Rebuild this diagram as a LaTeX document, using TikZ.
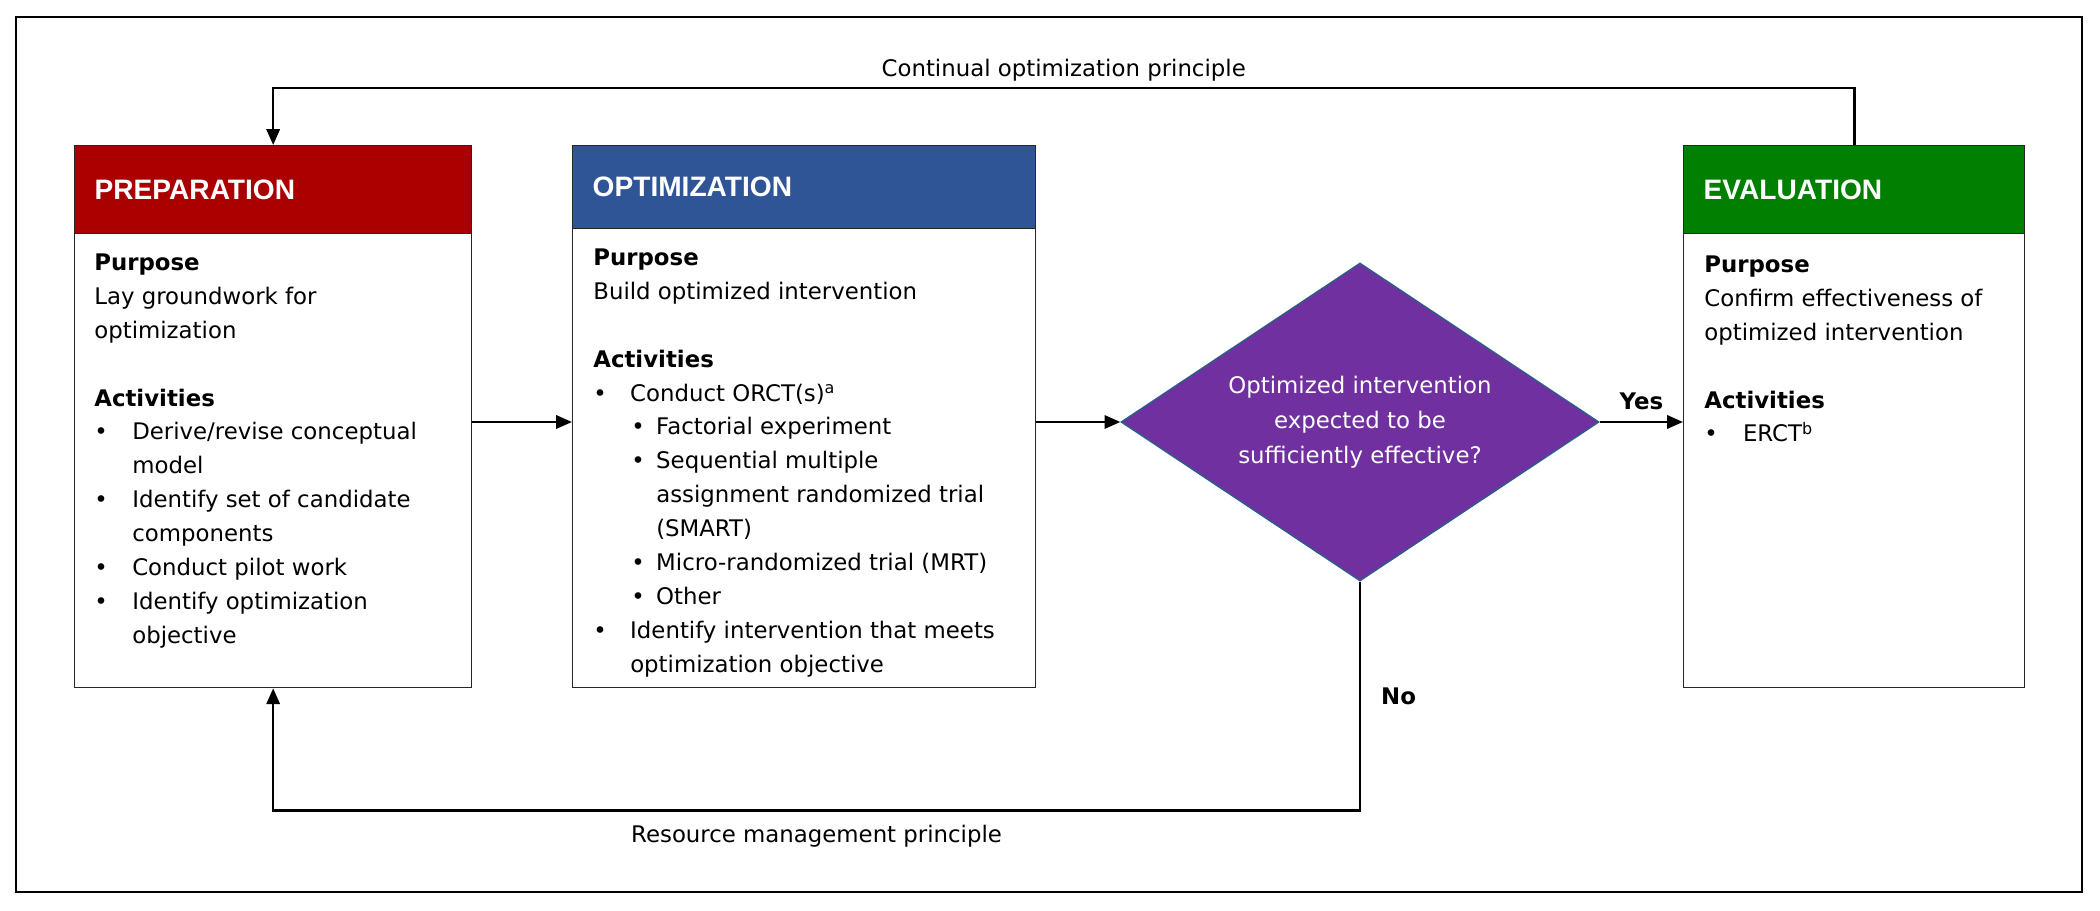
\documentclass[tikz,border=0pt]{standalone}
\usepackage{fontspec}
\setmainfont{DejaVu Sans}
\newfontfamily\headfont{Liberation Sans}
\usetikzlibrary{arrows.meta, positioning, shapes.geometric}
\definecolor{prepred}{HTML}{AA0000}
\definecolor{optblue}{HTML}{2F5597}
\definecolor{evalgreen}{HTML}{007F00}
\definecolor{decpurple}{HTML}{7030A0}
\definecolor{decedge}{HTML}{2E5C8A}
\newcommand{\bitem}[2][21.6pt]{\makebox[#1][l]{\textbullet}#2}
\newcommand{\bcont}[2][21.6pt]{\hspace*{#1}#2}
\newcommand{\sitem}[1]{\hspace*{21.6pt}\makebox[14.2pt][l]{\textbullet}#1}
\newcommand{\scont}[1]{\hspace*{35.8pt}#1}
\tikzset{
  phase/.style = {draw=black!85, line width=0.8pt, minimum height=10.84cm,
    inner sep=0pt},
  phasehead/.style = {draw=black!85, line width=0.8pt, text=white,
    inner xsep=0.4cm, inner ysep=0pt, align=left,
    font=\headfont\bfseries\fontsize{16}{19}\selectfont},
  phasetext/.style = {inner sep=0pt, align=left,
    font=\fontsize{13}{19.3}\selectfont},
  decision/.style = {diamond, aspect=1.5, draw=decedge, line width=0.8pt,
    fill=decpurple, text=white, inner sep=0pt, minimum width=9.56cm,
    minimum height=6.36cm, align=center, font=\fontsize{13}{20}\selectfont},
  conn/.style = {line width=1.5pt, >={Triangle[length=9pt,width=7.5pt]}},
  lbl/.style = {font=\fontsize{13}{16}\selectfont},
  yn/.style = {font=\bfseries\fontsize{13}{16}\selectfont}
}
\begin{document}
\begin{tikzpicture}[x=0.02cm, y=-0.02cm]
\useasboundingbox (0,0) rectangle (2100,911);
\draw[line width=1.6pt] (16,17) rectangle (2082,892);

% the three phases
\node[phase, minimum width=7.94cm, anchor=north west] (prep) at (74,145) {};
\node[phasehead, fill=prepred, text width=7.14cm, minimum height=1.76cm,
  anchor=north west] (prephead) at (prep.north west) {PREPARATION};
\node[phasetext, anchor=north west] (preptext)
  at ([xshift=0.4cm, yshift=-0.38cm]prephead.south west) {%
  \textbf{Purpose}\\
  Lay groundwork for\\
  optimization\\[19.3pt]
  \textbf{Activities}\\
  \bitem{Derive/revise conceptual}\\
  \bcont{model}\\
  \bitem{Identify set of candidate}\\
  \bcont{components}\\
  \bitem{Conduct pilot work}\\
  \bitem{Identify optimization}\\
  \bcont{objective}};

\node[phase, minimum width=9.26cm, anchor=north west] (opt) at (572,145) {};
\node[phasehead, fill=optblue, text width=8.46cm, minimum height=1.66cm,
  anchor=north west] (opthead) at (opt.north west) {OPTIMIZATION};
\node[phasetext, anchor=north west] (opttext)
  at ([xshift=0.42cm, yshift=-0.38cm]opthead.south west) {%
  \textbf{Purpose}\\
  Build optimized intervention\\[19.3pt]
  \textbf{Activities}\\
  \bitem[21pt]{Conduct ORCT(s)\textsuperscript{a}}\\
  \sitem{Factorial experiment}\\
  \sitem{Sequential multiple}\\
  \scont{assignment randomized trial}\\
  \scont{(SMART)}\\
  \sitem{Micro-randomized trial (MRT)}\\
  \sitem{Other}\\
  \bitem[21pt]{Identify intervention that meets}\\
  \bcont[21pt]{optimization objective}};

\node[phase, minimum width=6.82cm, anchor=north west] (eval) at (1683,145) {};
\node[phasehead, fill=evalgreen, text width=6.02cm, minimum height=1.76cm,
  anchor=north west] (evalhead) at (eval.north west) {EVALUATION};
\node[phasetext, anchor=north west] (evaltext)
  at ([xshift=0.42cm, yshift=-0.42cm]evalhead.south west) {%
  \textbf{Purpose}\\
  Confirm effectiveness of\\
  optimized intervention\\[19.3pt]
  \textbf{Activities}\\
  \bitem[22pt]{ERCT\textsuperscript{b}}};

% decision
\node[decision] (dec) at (1360,422)
  {Optimized intervention\\expected to be\\sufficiently effective?};

% connectors
\draw[conn,->] (prep.east |- dec) -- (opt.west |- dec);
\draw[conn,->] (opt.east |- dec) -- (dec.west);
\draw[conn,->] (dec.east) -- node[yn, above=3pt] (yes) {Yes}
  (eval.west |- dec.east);
\draw[conn,->] (eval.north) -- ++(0,-57) coordinate (tr)
  -- node[lbl, above] (contlbl) {Continual optimization principle} (tr -| prep.north)
  -- (prep.north);
\draw[conn,->] (dec.south) -- node[yn, right=8pt] (no) {No}
  ++(0,229) coordinate (br)
  -- node[lbl, below=4pt] (reslbl) {Resource management principle} (br -| prep.south)
  -- (prep.south);
\end{tikzpicture}
\end{document}
